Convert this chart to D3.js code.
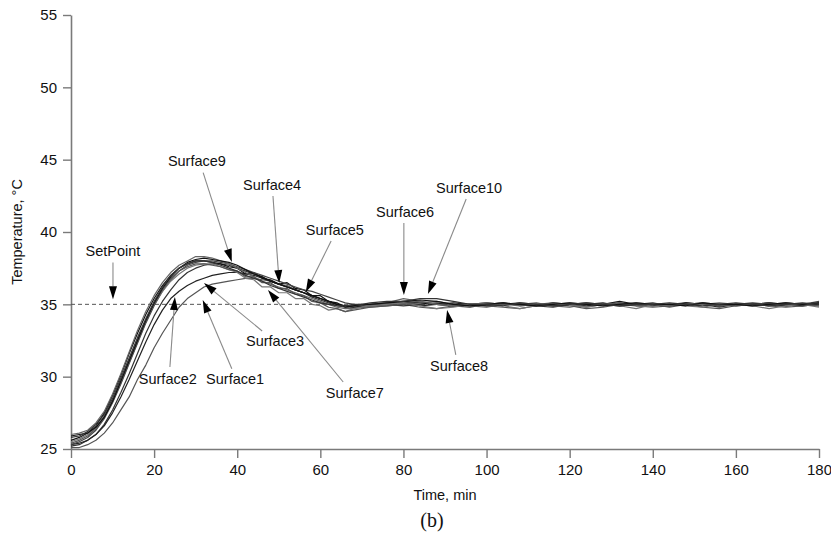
<!DOCTYPE html>
<html>
<head>
<meta charset="utf-8">
<script src="https://cdn.jsdelivr.net/npm/d3@7"></script>
<style>
  html, body { margin: 0; padding: 0; background: #fff; }
  svg { display: block; }
  text { font-family: "Liberation Sans", Arial, Helvetica, sans-serif; fill: #111; }
</style>
</head>
<body>
<svg id="chart" width="831" height="533"></svg>
<script>
// Sample times (min): every 2 min during the warm-up, every 4 min afterwards
const timesEarly = d3.range(0, 71, 2);
const timesLate = d3.range(72, 181, 4);
const times = timesEarly.concat(timesLate);

// Surface temperatures (°C) at each sample time
const surface1 = [25.1,25.1,25.3,25.6,26.1,26.8,27.7,28.6,29.8,30.8,32.0,33.0,33.9,34.8,35.4,35.8,36.2,36.4,36.5,36.6,36.7,36.8,36.8,36.7,36.6,36.4,36.3,36.0,35.8,35.6,35.4,35.2,35.0,34.9,34.8,34.8,
                  34.8,34.9,35.0,34.8,34.7,34.9,35.0,34.9,34.8,34.7,34.9,35.0,34.9,34.7,34.8,35.0,34.9,34.8,34.9,35.0,34.8,34.7,34.9,35.0,34.9,34.8,34.9,35.0];
const surface2 = [25.2,25.3,25.6,26.0,26.7,27.7,28.9,30.2,31.6,33.0,34.2,35.2,36.0,36.7,37.2,37.5,37.7,37.8,37.8,37.7,37.5,37.3,37.1,36.9,36.6,36.4,36.2,36.0,35.8,35.5,35.3,35.1,34.9,34.8,34.8,34.9,
                  35.0,35.0,34.9,35.0,35.1,34.9,34.8,35.0,35.1,35.0,34.9,34.8,35.0,35.1,35.0,34.9,35.0,35.1,34.9,35.0,35.0,34.8,35.0,35.1,35.0,34.9,35.0,35.1];
const surface3 = [25.3,25.4,25.6,26.0,26.6,27.5,28.6,29.8,31.1,32.4,33.6,34.6,35.4,35.9,36.3,36.6,36.8,37.0,37.1,37.2,37.2,37.1,37.0,36.8,36.6,36.4,36.2,36.0,35.8,35.6,35.4,35.2,35.0,34.9,34.8,34.8,
                  34.9,35.0,35.1,34.9,35.0,35.1,35.0,34.9,35.0,35.1,35.0,34.9,35.0,35.0,35.1,34.9,35.0,35.0,34.9,35.1,35.0,34.9,35.0,35.0,35.1,34.9,35.0,35.0];
const surface4 = [25.6,25.8,26.1,26.6,27.5,28.7,30.1,31.6,33.0,34.3,35.4,36.3,37.0,37.5,37.8,38.0,38.0,37.9,37.8,37.6,37.5,37.1,37.2,36.8,36.7,36.4,36.5,36.1,36.0,35.6,35.6,35.2,35.1,34.8,34.9,34.9,
                  35.0,35.1,35.2,35.1,35.0,34.9,35.0,35.1,35.0,35.0,34.9,35.1,35.0,34.9,35.0,35.2,35.0,34.9,35.0,35.1,35.0,34.9,35.0,35.0,35.1,35.0,34.9,35.0];
const surface5 = [25.3,25.5,25.8,26.3,27.1,28.2,29.5,30.9,32.3,33.7,34.9,35.9,36.7,37.3,37.7,37.9,38.0,38.0,37.9,37.8,37.6,37.4,37.2,37.0,36.8,36.6,36.4,36.2,36.0,35.9,35.7,35.5,35.3,35.1,35.0,34.9,
                  34.9,35.0,35.1,35.2,35.0,34.9,35.0,35.0,35.1,34.9,35.0,35.1,35.0,34.8,35.0,35.1,35.0,35.0,34.9,35.0,35.1,35.0,34.9,35.0,35.1,35.0,35.0,35.2];
const surface6 = [26.0,26.1,26.3,26.8,27.6,28.8,30.2,31.7,33.2,34.5,35.6,36.5,37.2,37.7,38.0,38.3,38.3,38.2,38.0,37.8,37.5,37.2,36.9,36.6,36.4,36.2,36.0,35.8,35.6,35.4,35.2,35.0,34.8,34.7,34.7,34.8,
                  35.0,35.1,35.4,35.2,35.0,34.9,35.0,35.1,35.0,34.9,35.0,35.0,35.1,35.0,34.9,35.0,35.1,35.0,34.9,35.0,35.0,35.1,35.0,34.9,35.0,35.1,35.0,34.9];
const surface7 = [25.5,25.7,26.0,26.5,27.3,28.4,29.8,31.2,32.6,33.9,35.0,35.9,36.6,37.1,37.5,37.7,37.8,37.8,37.6,37.4,37.2,36.8,36.7,36.2,36.2,35.8,35.8,35.4,35.4,35.0,34.9,34.6,34.7,34.5,34.7,34.8,
                  34.9,35.0,35.1,34.9,34.7,34.8,35.0,35.0,34.9,34.7,34.9,35.0,35.0,34.8,35.0,34.9,34.7,35.0,35.0,34.9,34.8,35.0,35.0,34.9,34.7,34.9,35.0,34.8];
const surface8 = [25.4,25.6,25.9,26.4,27.2,28.3,29.6,31.0,32.4,33.8,35.0,36.0,36.8,37.3,37.6,37.8,37.8,37.7,37.6,37.4,37.3,36.9,36.9,36.5,36.5,36.1,36.1,35.7,35.6,35.2,35.1,34.8,34.7,34.5,34.6,34.7,
                  34.8,34.9,35.0,35.1,35.2,35.0,34.9,34.8,35.0,35.0,35.1,34.9,34.8,35.0,35.0,35.1,34.9,35.0,34.8,35.0,35.1,34.9,35.0,35.0,34.9,35.1,35.0,34.9];
const surface9 = [25.9,26.0,26.1,26.5,27.2,28.3,29.7,31.1,32.5,33.9,35.1,36.1,36.9,37.5,37.9,38.1,38.2,38.1,38.0,37.9,37.7,37.4,37.1,36.9,36.6,36.4,36.2,36.0,35.8,35.6,35.4,35.2,35.0,34.9,34.9,35.0,
                  35.0,35.1,35.2,35.3,35.2,35.0,34.9,35.0,35.1,35.0,34.9,35.0,35.1,35.0,34.9,35.0,35.1,35.0,35.0,34.9,35.1,35.0,35.0,34.9,35.0,35.1,35.0,35.1];
const surface10 = [25.8,25.9,26.2,26.7,27.4,28.5,29.9,31.3,32.7,34.0,35.2,36.2,37.0,37.5,37.8,38.0,38.0,37.9,37.7,37.5,37.3,37.0,36.8,36.6,36.3,36.1,35.9,35.7,35.5,35.3,35.1,35.0,34.9,34.9,35.0,35.0,
                   35.1,35.2,35.2,35.4,35.4,35.2,35.0,35.0,34.9,35.1,35.0,34.9,35.0,35.1,35.0,34.9,35.0,35.0,35.1,35.0,34.9,35.0,35.1,35.0,34.9,35.0,35.1,35.0];

const seriesNames = ["Surface1","Surface2","Surface3","Surface4","Surface5","Surface6","Surface7","Surface8","Surface9","Surface10"];
const seriesValues = [surface1, surface2, surface3, surface4, surface5, surface6, surface7, surface8, surface9, surface10];
const seriesColors = ["#555","#333","#222","#111","#444","#666","#777","#555","#111","#333"];

const setPoint = 35;
const xTicks = d3.range(0, 181, 20);
const yTicks = d3.range(25, 56, 5);

// Call-out labels: text anchor, leader start and arrow tip, in (min, °C)
const calloutNames = ["SetPoint","Surface9","Surface4","Surface5","Surface6","Surface10","Surface3","Surface2","Surface1","Surface7","Surface8"];
const calloutText  = [[10.1,38.69],[30.3,44.91],[48.4,43.25],[63.5,40.14],[80.4,41.38],[95.8,43.04],[49.1,32.47],[23.3,29.84],[39.5,29.84],[68.3,28.87],[93.4,30.74]];
const calloutStart = [[10.1,37.90],[31.8,44.10],[48.6,42.49],[62.6,39.38],[80.1,40.62],[95.1,42.28],[46.0,33.16],[23.8,30.67],[38.7,30.55],[65.5,29.63],[92.6,31.50]];
const calloutTip   = [[10.1,35.35],[38.7,37.93],[50.1,36.47],[56.5,35.85],[80.1,35.64],[85.9,35.71],[32.0,36.47],[25.0,35.50],[31.7,35.30],[47.4,35.99],[90.5,34.61]];

const svg = d3.select("#chart");
const x = d3.scaleLinear().domain([0, 180]).range([71, 819]);
const y = d3.scaleLinear().domain([25, 55]).range([449, 15]);

// Axes
const axisColor = "#7a7a7a";
const gx = svg.append("g").attr("transform", `translate(0,${y(25)})`)
  .call(d3.axisBottom(x).tickValues(xTicks).tickSize(9).tickSizeOuter(0).tickPadding(6));
const gy = svg.append("g").attr("transform", `translate(${x(0)},0)`)
  .call(d3.axisLeft(y).tickValues(yTicks).tickSize(8).tickSizeOuter(0).tickPadding(6));
[gx, gy].forEach(g => {
  g.select(".domain").attr("stroke", axisColor).attr("stroke-width", 1.6);
  g.selectAll(".tick line").attr("stroke", axisColor).attr("stroke-width", 1.4);
  g.selectAll(".tick text").attr("font-size", 15).attr("fill", "#111");
});

// Set point reference line
svg.append("line")
  .attr("x1", x(0)).attr("x2", x(180))
  .attr("y1", y(setPoint)).attr("y2", y(setPoint))
  .attr("stroke", "#555").attr("stroke-width", 1)
  .attr("stroke-dasharray", "4,3");

// Temperature traces
const line = d3.line().x((d, i) => x(times[i])).y(d => y(d));
svg.append("g").selectAll("path")
  .data(seriesValues)
  .join("path")
  .attr("d", line)
  .attr("fill", "none")
  .attr("stroke", (d, i) => seriesColors[i])
  .attr("stroke-width", 1.2)
  .attr("stroke-linejoin", "round");

// Call-outs: grey leader with black arrowhead
const callouts = svg.append("g");
calloutNames.forEach((name, i) => {
  const [sx, sy] = [x(calloutStart[i][0]), y(calloutStart[i][1])];
  const [tx, ty] = [x(calloutTip[i][0]), y(calloutTip[i][1])];
  const ang = Math.atan2(ty - sy, tx - sx);
  const len = 13, half = 4;
  const bx = tx - len * Math.cos(ang), by = ty - len * Math.sin(ang);
  callouts.append("line")
    .attr("x1", sx).attr("y1", sy).attr("x2", bx).attr("y2", by)
    .attr("stroke", "#8a8a8a").attr("stroke-width", 1.1);
  const px = -Math.sin(ang) * half, py = Math.cos(ang) * half;
  callouts.append("path")
    .attr("d", `M${tx},${ty}L${bx + px},${by + py}L${bx - px},${by - py}Z`)
    .attr("fill", "#000");
  callouts.append("text")
    .attr("x", x(calloutText[i][0])).attr("y", y(calloutText[i][1]))
    .attr("text-anchor", "middle").attr("dominant-baseline", "central")
    .attr("font-size", 14.5)
    .text(name);
});

// Axis titles and panel tag
svg.append("text")
  .attr("x", 445).attr("y", 495)
  .attr("text-anchor", "middle").attr("dominant-baseline", "central")
  .attr("font-size", 14.5)
  .text("Time, min");
svg.append("text")
  .attr("transform", "translate(17,232) rotate(-90)")
  .attr("text-anchor", "middle").attr("dominant-baseline", "central")
  .attr("font-size", 14.5)
  .text("Temperature, °C");
svg.append("text")
  .attr("x", 432).attr("y", 520)
  .attr("text-anchor", "middle").attr("dominant-baseline", "central")
  .attr("font-size", 20)
  .style("font-family", "'Liberation Serif', 'Times New Roman', serif")
  .text("(b)");
</script>
</body>
</html>
